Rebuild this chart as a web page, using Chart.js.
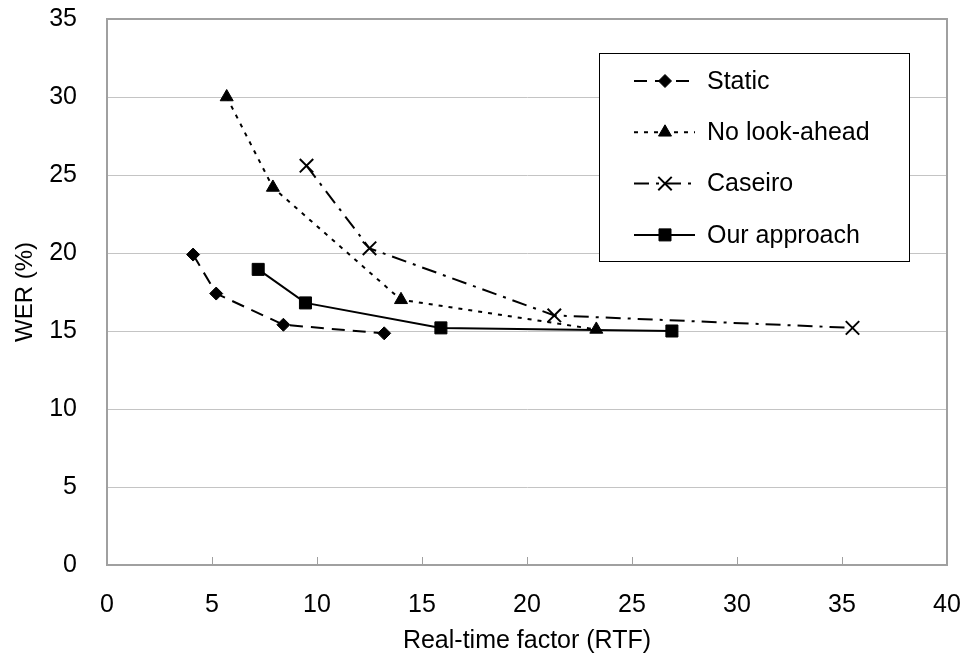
<!DOCTYPE html>
<html>
<head>
<meta charset="utf-8">
<script src="https://cdn.jsdelivr.net/npm/chart.js"></script>
<style>
  body { margin: 0; background: #fff; }
  canvas { display: block; }
</style>
</head>
<body>
<canvas id="werChart" width="967" height="669"></canvas>
<script>
/* WER vs RTF */

const seriesNames = ['Static', 'No look-ahead', 'Caseiro', 'Our approach'];

// RTF (x) と WER (y)
const staticX = [4.1, 5.2, 8.4, 13.2];
const staticY = [19.9, 17.4, 15.4, 14.85];

const noLookX = [5.7, 7.9, 14.0, 23.3];
const noLookY = [30.0, 24.2, 17.0, 15.1];

const caseiroX = [9.5, 12.5, 21.3, 35.5];
const caseiroY = [25.6, 20.3, 16.0, 15.2];

const oursX = [7.2, 9.45, 15.9, 26.9];
const oursY = [18.95, 16.8, 15.2, 15.0];

const xTicks = [0, 5, 10, 15, 20, 25, 30, 35, 40];
const yTicks = [0, 5, 10, 15, 20, 25, 30, 35];

const FONT = "'Liberation Sans', Arial, sans-serif";
const AXIS_GRAY = '#a0a0a0';
const GRID_GRAY = '#c4c4c4';

function toPoints(xs, ys) {
  return xs.map((x, i) => ({x: x, y: ys[i]}));
}

function makeSet(label, xs, ys, style, radius, dash, pbw) {
  return {
    label: label,
    data: toPoints(xs, ys),
    showLine: true,
    borderColor: '#000',
    backgroundColor: '#000',
    borderWidth: 2,
    borderDash: dash,
    pointStyle: style,
    pointRadius: radius,
    pointBorderWidth: pbw,
    pointBackgroundColor: '#000',
    pointBorderColor: '#000',
    fill: false,
  };
}

function noPadding(scale) {
  scale.paddingTop = 0;
  scale.paddingBottom = 0;
  scale.paddingLeft = 0;
  scale.paddingRight = 0;
}

// 枠線（上と右）
const plotFrame = {
  id: 'plotFrame',
  beforeDatasetsDraw(chart) {
    const a = chart.chartArea;
    const ctx = chart.ctx;
    ctx.save();
    ctx.strokeStyle = AXIS_GRAY;
    ctx.lineWidth = 2;
    ctx.beginPath();
    ctx.moveTo(a.left, a.top);
    ctx.lineTo(a.right, a.top);
    ctx.lineTo(a.right, a.bottom);
    ctx.stroke();
    ctx.restore();
  }
};

// 凡例（グラフ内の枠）
const insideLegend = {
  id: 'insideLegend',
  afterDatasetsDraw(chart) {
    const ctx = chart.ctx;
    const left = 599, top = 53, right = 909, bottom = 261;
    ctx.save();
    ctx.fillStyle = '#fff';
    ctx.fillRect(left, top, right - left, bottom - top);
    ctx.strokeStyle = '#000';
    ctx.lineWidth = 1;
    ctx.strokeRect(left + 0.5, top + 0.5, right - left, bottom - top);

    chart.data.datasets.forEach((ds, i) => {
      const y = 81 + i * 51.3;
      ctx.save();
      ctx.strokeStyle = '#000';
      ctx.lineWidth = 2;
      ctx.setLineDash(ds.borderDash || []);
      ctx.beginPath();
      ctx.moveTo(634, y);
      ctx.lineTo(695, y);
      ctx.stroke();
      ctx.restore();

      ctx.save();
      ctx.fillStyle = '#000';
      ctx.strokeStyle = '#000';
      ctx.lineWidth = ds.pointBorderWidth;
      Chart.helpers.drawPoint(ctx, {
        pointStyle: ds.pointStyle,
        radius: ds.pointRadius,
        rotation: 0,
        borderWidth: ds.pointBorderWidth
      }, 665, y);
      ctx.restore();

      ctx.fillStyle = '#000';
      ctx.font = '25px ' + FONT;
      ctx.textBaseline = 'middle';
      ctx.textAlign = 'left';
      ctx.fillText(ds.label, 707, y + 1);
    });
    ctx.restore();
  }
};

const data = {
  datasets: [
    makeSet(seriesNames[0], staticX, staticY, 'rectRot', 6.5, [13, 8], 1),
    makeSet(seriesNames[1], noLookX, noLookY, 'triangle', 7.5, [4, 6], 1),
    makeSet(seriesNames[2], caseiroX, caseiroY, 'crossRot', 9.5, [15, 7, 3, 7], 2),
    makeSet(seriesNames[3], oursX, oursY, 'rect', 8.5, [], 1),
  ]
};

const config = {
  type: 'scatter',
  data: data,
  options: {
    responsive: false,
    animation: false,
    devicePixelRatio: 1,
    layout: {
      padding: {top: 19, right: 20, left: 0, bottom: 0}
    },
    plugins: {
      legend: { display: false },
      tooltip: { enabled: false }
    },
    scales: {
      x: {
        type: 'linear',
        min: 0,
        max: 40,
        afterBuildTicks: (scale) => { scale.ticks = xTicks.map(v => ({value: v})); },
        afterFit: (scale) => { scale.height = 104; noPadding(scale); },
        ticks: {
          color: '#000',
          padding: 33,
          font: {family: FONT, size: 25}
        },
        grid: {
          display: true,
          drawOnChartArea: false,
          drawTicks: true,
          tickLength: -8,
          color: AXIS_GRAY,
          lineWidth: 1
        },
        border: { color: AXIS_GRAY, width: 2 },
        title: {
          display: true,
          text: 'Real-time factor (RTF)',
          color: '#000',
          font: {family: FONT, size: 25},
          padding: {top: 0, bottom: 13}
        }
      },
      y: {
        type: 'linear',
        min: 0,
        max: 35,
        afterBuildTicks: (scale) => { scale.ticks = yTicks.map(v => ({value: v})); },
        afterFit: (scale) => { scale.width = 107; noPadding(scale); },
        ticks: {
          color: '#000',
          padding: 30,
          font: {family: FONT, size: 25}
        },
        grid: {
          color: GRID_GRAY,
          lineWidth: 1,
          drawTicks: false
        },
        border: { color: AXIS_GRAY, width: 2 },
        title: {
          display: true,
          text: 'WER (%)',
          color: '#000',
          font: {family: FONT, size: 24},
          padding: {top: 11, bottom: 0}
        }
      }
    }
  },
  plugins: [plotFrame, insideLegend]
};

const ctx = document.getElementById('werChart').getContext('2d');
new Chart(ctx, config);
</script>
</body>
</html>
